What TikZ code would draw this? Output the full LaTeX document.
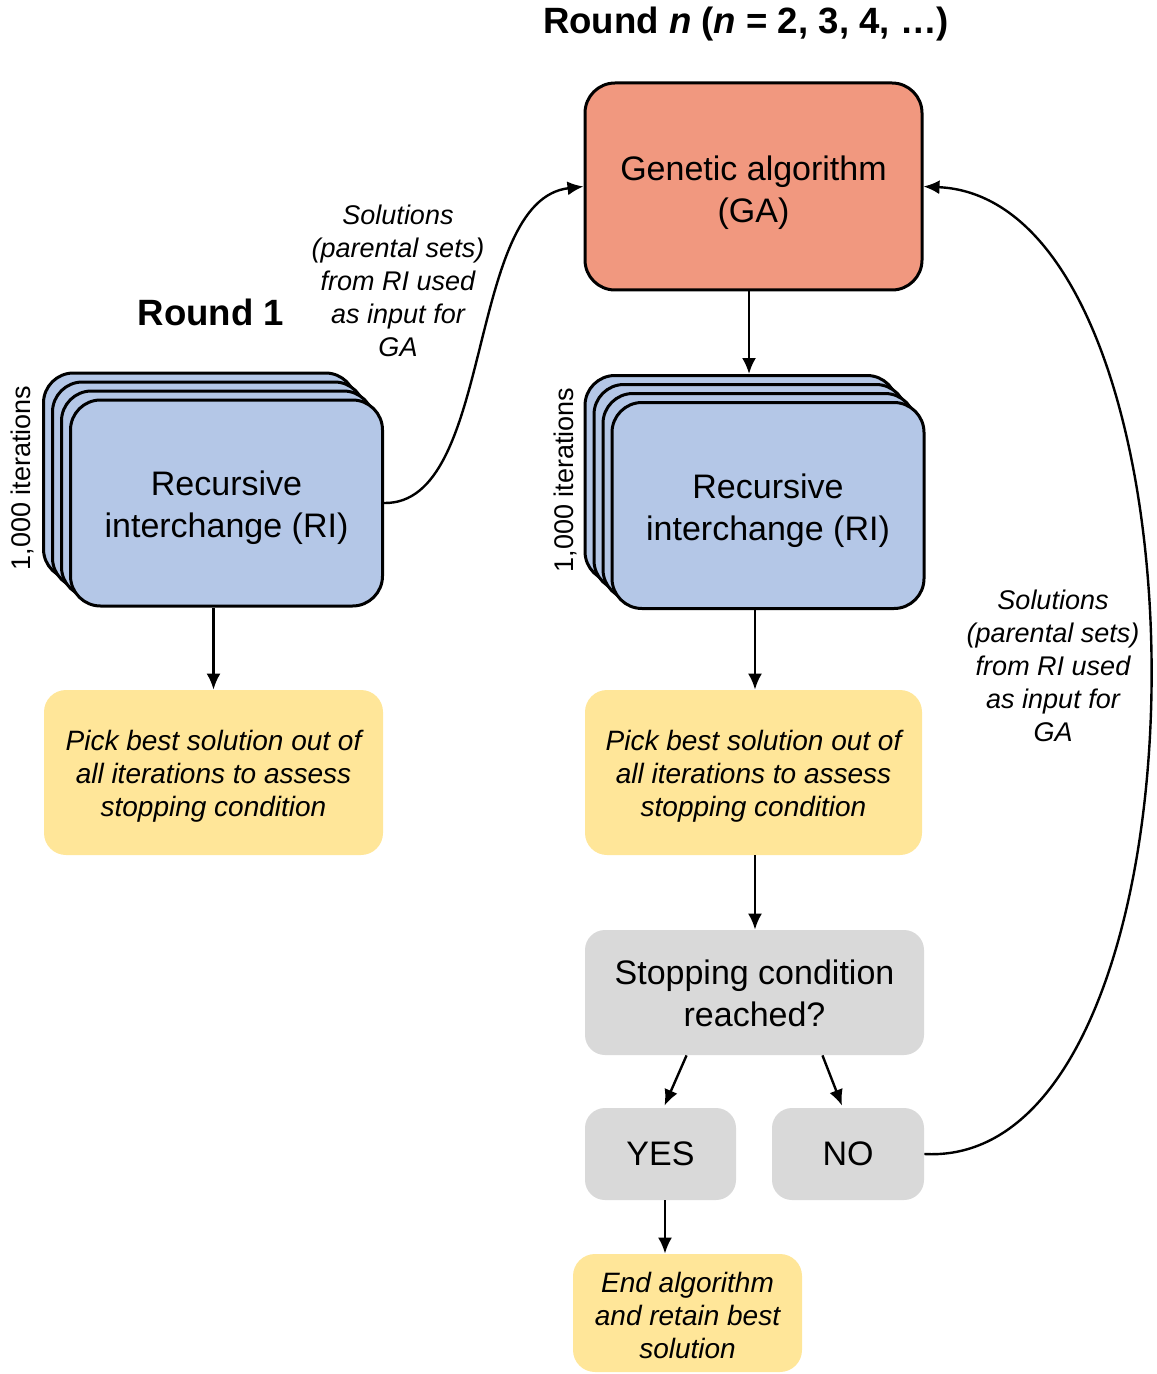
\documentclass[tikz,border=0pt]{standalone}
\usepackage{fontspec}
\setmainfont{Liberation Sans}
\usetikzlibrary{arrows.meta,calc}

\definecolor{gacol}{HTML}{F1987F}
\definecolor{ricol}{HTML}{B4C7E7}
\definecolor{pickcol}{HTML}{FFE699}
\definecolor{askcol}{HTML}{D9D9D9}

\begin{document}
\begin{tikzpicture}[x=0.5pt, y=-0.5pt,
    box/.style={rectangle, align=center, inner sep=0pt, font=\fontsize{17}{21}\selectfont},
    textdrop/.style={text height=#1, text depth=0pt},
    ribox/.style={box, draw, line width=1.5pt, fill=ricol, rounded corners=15pt, minimum width=156pt, minimum height=103pt},
    pickbox/.style={box, fill=pickcol, rounded corners=11pt, font=\fontsize{14}{16.5}\selectfont\itshape},
    askbox/.style={box, fill=askcol, rounded corners=10pt},
    note/.style={align=center, font=\fontsize{13.5}{16.5}\selectfont\itshape},
    title/.style={font=\fontsize{18.3}{22}\selectfont\bfseries},
    arr/.style={-{Latex[length=8pt,width=7pt]}, line width=1.2pt}]
    \useasboundingbox (0,0) rectangle (1156,1374);

    % titles
    \node (roundn) [title] at (746,24) {Round \textit{n} (\textit{n} = 2, 3, 4, …)};
    \node (round1) [title] at (211,312) {Round 1};

    % genetic algorithm
    \node (ga) [box, textdrop=36.5pt, draw, line width=1.5pt, fill=gacol, rounded corners=15pt, minimum width=168.5pt, minimum height=103.5pt] at (753.5,186.5)
    {Genetic algorithm\\(GA)};

    % stacks of RI runs
    \foreach \k in {3,2,1} {
        \node (lri\k) [ribox] at (226.5-9*\k, 503-9*\k) {};
        \node (rri\k) [ribox] at (768-9*\k, 505.5-9*\k) {};
    }
    \node (lri) [ribox, textdrop=34.5pt] at (226.5,503) {Recursive\\interchange (RI)};
    \node (rri) [ribox, textdrop=34.5pt] at (768,505.5) {Recursive\\interchange (RI)};
    \node (liter) [font=\fontsize{13.5}{16}\selectfont, rotate=90] at (22,478) {1,000 iterations};
    \node (riter) [font=\fontsize{13.5}{16}\selectfont, rotate=90] at (565,480) {1,000 iterations};

    % picking the best solution
    \node (lpick) [pickbox, textdrop=43.5pt, minimum width=169.5pt, minimum height=82.5pt] at (213.5,772.5)
    {Pick best solution out of\\all iterations to assess\\stopping condition};
    \node (rpick) [pickbox, textdrop=43.5pt, minimum width=168.5pt, minimum height=82.5pt] at (753.5,772.5)
    {Pick best solution out of\\all iterations to assess\\stopping condition};

    % stopping decision
    \node (stop) [askbox, textdrop=33.5pt, minimum width=169.5pt, minimum height=62.5pt] at (754.5,992.5) {Stopping condition\\reached?};
    \node (yes) [askbox, minimum width=75.5pt, minimum height=46pt] at (660.5,1154) {YES};
    \node (no) [askbox, minimum width=76pt, minimum height=46pt] at (848,1154) {NO};
    \node (stopend) [pickbox, textdrop=45pt, minimum width=114.5pt, minimum height=59pt] at (687.5,1313)
    {End algorithm\\and retain best\\solution};

    % notes on the feedback curves
    \node (lnote) [note] at (398,281) {Solutions\\(parental sets)\\from RI used\\as input for\\GA};
    \node (rnote) [note] at (1053,666) {Solutions\\(parental sets)\\from RI used\\as input for\\GA};

    % connectors
    \draw[arr] (ga.south -| 749,0) -- (749,0 |- rri3.north);
    \draw[arr] (lpick.north |- lri.south) -- (lpick.north);
    \draw[arr] (755,0 |- rri.south) -- (755,0 |- rpick.north);
    \draw[arr] (755,0 |- rpick.south) -- (755,0 |- stop.north);
    \draw[arr] ($(stop.south west)!0.3!(stop.south east)$) -- ($(yes.north)+(4,-2)$);
    \draw[arr] ($(stop.south west)!0.7!(stop.south east)$) -- ($(no.north)+(-6,-2)$);
    \draw[arr] (665,0 |- yes.south) -- (665,0 |- stopend.north);
    \draw[arr] (lri.east) .. controls (495,505) and (465,200) .. (ga.west);
    \draw[arr] (no.east) .. controls (1225,1170) and (1225,200) .. (ga.east);
\end{tikzpicture}
\end{document}
